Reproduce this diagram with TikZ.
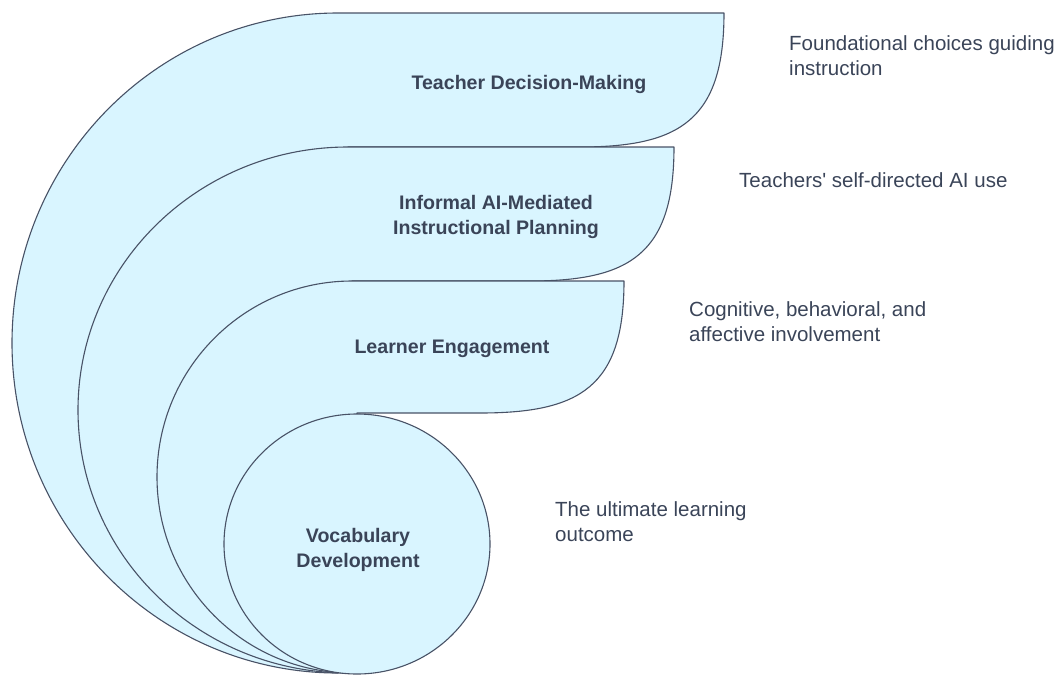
\documentclass[tikz,border=0pt]{standalone}
\usepackage{fontspec}
\setmainfont{Liberation Sans}
\newfontfamily\plainfont{Liberation Sans}
\definecolor{fillc}{RGB}{217,245,255}
\definecolor{linec}{RGB}{72,82,102}
\definecolor{txtc}{RGB}{58,68,88}
\begin{document}
\begin{tikzpicture}[x=1pt,y=-1pt,
  layer/.style={fill=fillc,draw=linec,line width=1.1pt,line join=round},
  lbl/.style={font=\fontsize{19.6}{25}\selectfont\bfseries,text=txtc,align=center,inner sep=0pt},
  desc/.style={font=\fontsize{20.5}{24.5}\selectfont,text=txtc,align=left,inner sep=0pt}]
\useasboundingbox (0,0) rectangle (1062,675);
% layer 1
\draw[layer] (338,673) arc[start angle=90,end angle=270,x radius=326,y radius=330]
  -- (724,13) .. controls (724,120) and (680,147) .. (580,147) -- (348,147) -- cycle;
% layer 2
\draw[layer] (348,673) arc[start angle=90,end angle=270,x radius=270,y radius=263]
  -- (674,147) .. controls (674,254) and (630,281) .. (530,281) -- (352,281) -- cycle;
% layer 3
\draw[layer] (352,673) arc[start angle=90,end angle=270,x radius=195,y radius=196]
  -- (624,281) .. controls (624,387) and (580,413) .. (480,413) -- (357,413) -- cycle;
% layer 4
\draw[layer] (357,544) ellipse[x radius=133,y radius=130];
% labels
\node[lbl] (tdm) at (529,84) {Teacher Decision-Making};
\node[lbl] (iai) at (496,216.5) {Informal AI-Mediated\\Instructional Planning};
\node[lbl] (le) at (452,349) {Learner Engagement};
\node[lbl] (vd) at (358,549.5) {Vocabulary\\Development};
% descriptions
\node[desc,anchor=west] (d1) at (789,55.75) {Foundational choices guiding\\instruction};
\node[desc,anchor=base west] (d2) at (739,187) {\plainfont Teachers' self-directed AI use};
\node[desc,anchor=west] (d3) at (689,321.75) {Cognitive, behavioral, and\\affective involvement};
\node[desc,anchor=west] (d4) at (555,521.75) {The ultimate learning\\outcome};
\end{tikzpicture}
\end{document}
